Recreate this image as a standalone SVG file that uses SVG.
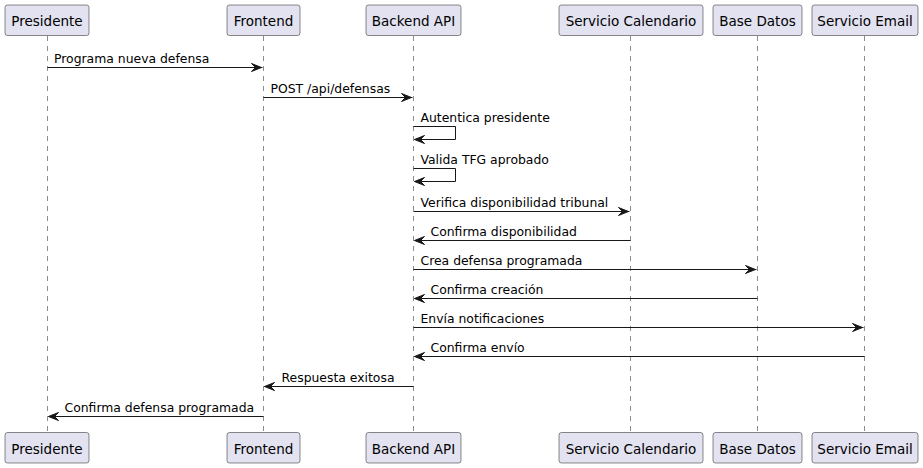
<svg xmlns="http://www.w3.org/2000/svg" width="923" height="468" viewBox="0 0 923 468">
<style>
.bg{fill:#FFFFFF}
.box{fill:#E2E2F0;stroke:#181818;stroke-width:0.5}
.pl{font-family:"DejaVu Sans",sans-serif;font-size:13.5px;fill:#000000;text-anchor:middle}
.life{stroke:#181818;stroke-width:0.5;stroke-dasharray:5,5;fill:none}
.msg{stroke:#181818;stroke-width:1;fill:none}
.ah{fill:#181818;stroke:#181818;stroke-width:1}
.ml{font-family:"DejaVu Sans",sans-serif;font-size:12.4px;fill:#000000}
</style>
<rect class="bg" x="0" y="0" width="923" height="468"/>
<g id="lifelines">
<line class="life" x1="47.5" y1="36" x2="47.5" y2="432"/>
<line class="life" x1="263.5" y1="36" x2="263.5" y2="432"/>
<line class="life" x1="413.5" y1="36" x2="413.5" y2="432"/>
<line class="life" x1="630.5" y1="36" x2="630.5" y2="432"/>
<line class="life" x1="757.5" y1="36" x2="757.5" y2="432"/>
<line class="life" x1="864.5" y1="36" x2="864.5" y2="432"/>
</g>
<g id="presidente">
<rect class="box" x="5" y="5" width="84" height="30.5" rx="2.5"/>
<text class="pl" x="47" y="26">Presidente</text>
<rect class="box" x="5" y="432.5" width="84" height="30.5" rx="2.5"/>
<text class="pl" x="47" y="453.5">Presidente</text>
</g>
<g id="frontend">
<rect class="box" x="227" y="5" width="73" height="30.5" rx="2.5"/>
<text class="pl" x="263.5" y="26">Frontend</text>
<rect class="box" x="227" y="432.5" width="73" height="30.5" rx="2.5"/>
<text class="pl" x="263.5" y="453.5">Frontend</text>
</g>
<g id="backend">
<rect class="box" x="366" y="5" width="95" height="30.5" rx="2.5"/>
<text class="pl" x="413.5" y="26">Backend API</text>
<rect class="box" x="366" y="432.5" width="95" height="30.5" rx="2.5"/>
<text class="pl" x="413.5" y="453.5">Backend API</text>
</g>
<g id="calendario">
<rect class="box" x="559" y="5" width="144" height="30.5" rx="2.5"/>
<text class="pl" x="631" y="26">Servicio Calendario</text>
<rect class="box" x="559" y="432.5" width="144" height="30.5" rx="2.5"/>
<text class="pl" x="631" y="453.5">Servicio Calendario</text>
</g>
<g id="basedatos">
<rect class="box" x="713" y="5" width="89" height="30.5" rx="2.5"/>
<text class="pl" x="757.5" y="26">Base Datos</text>
<rect class="box" x="713" y="432.5" width="89" height="30.5" rx="2.5"/>
<text class="pl" x="757.5" y="453.5">Base Datos</text>
</g>
<g id="email">
<rect class="box" x="812" y="5" width="106" height="30.5" rx="2.5"/>
<text class="pl" x="865" y="26">Servicio Email</text>
<rect class="box" x="812" y="432.5" width="106" height="30.5" rx="2.5"/>
<text class="pl" x="865" y="453.5">Servicio Email</text>
</g>
<g id="connectors">
<line class="msg" x1="47.5" y1="67.5" x2="262.5" y2="67.5"/>
<polygon class="ah" points="251.5,63.5 261.5,67.5 251.5,71.5 255.5,67.5"/>
<text class="ml" x="54" y="63">Programa nueva defensa</text>

<line class="msg" x1="263.5" y1="97.5" x2="412.5" y2="97.5"/>
<polygon class="ah" points="401.5,93.5 411.5,97.5 401.5,101.5 405.5,97.5"/>
<text class="ml" x="270.5" y="93">POST /api/defensas</text>

<polyline class="msg" points="413.5,126.5 455.5,126.5 455.5,139.5 414.5,139.5"/>
<polygon class="ah" points="424.5,135.5 414.5,139.5 424.5,143.5 420.5,139.5"/>
<text class="ml" x="420.5" y="122">Autentica presidente</text>

<polyline class="msg" points="413.5,168.5 455.5,168.5 455.5,181.5 414.5,181.5"/>
<polygon class="ah" points="424.5,177.5 414.5,181.5 424.5,185.5 420.5,181.5"/>
<text class="ml" x="420.5" y="164">Valida TFG aprobado</text>

<line class="msg" x1="413.5" y1="211.5" x2="629.5" y2="211.5"/>
<polygon class="ah" points="618.5,207.5 628.5,211.5 618.5,215.5 622.5,211.5"/>
<text class="ml" x="420.5" y="207">Verifica disponibilidad tribunal</text>

<line class="msg" x1="414.5" y1="240.5" x2="630.5" y2="240.5"/>
<polygon class="ah" points="424.5,236.5 414.5,240.5 424.5,244.5 420.5,240.5"/>
<text class="ml" x="430.5" y="236">Confirma disponibilidad</text>

<line class="msg" x1="413.5" y1="269.5" x2="756.5" y2="269.5"/>
<polygon class="ah" points="745.5,265.5 755.5,269.5 745.5,273.5 749.5,269.5"/>
<text class="ml" x="420.5" y="265">Crea defensa programada</text>

<line class="msg" x1="414.5" y1="298.5" x2="757.5" y2="298.5"/>
<polygon class="ah" points="424.5,294.5 414.5,298.5 424.5,302.5 420.5,298.5"/>
<text class="ml" x="430.5" y="294">Confirma creación</text>

<line class="msg" x1="413.5" y1="327.5" x2="863.5" y2="327.5"/>
<polygon class="ah" points="852.5,323.5 862.5,327.5 852.5,331.5 856.5,327.5"/>
<text class="ml" x="420.5" y="323">Envía notificaciones</text>

<line class="msg" x1="414.5" y1="356.5" x2="864.5" y2="356.5"/>
<polygon class="ah" points="424.5,352.5 414.5,356.5 424.5,360.5 420.5,356.5"/>
<text class="ml" x="430.5" y="352">Confirma envío</text>

<line class="msg" x1="264.5" y1="386.5" x2="413.5" y2="386.5"/>
<polygon class="ah" points="274.5,382.5 264.5,386.5 274.5,390.5 270.5,386.5"/>
<text class="ml" x="281.5" y="382">Respuesta exitosa</text>

<line class="msg" x1="48.5" y1="416.5" x2="263.5" y2="416.5"/>
<polygon class="ah" points="58.5,412.5 48.5,416.5 58.5,420.5 54.5,416.5"/>
<text class="ml" x="64.5" y="412">Confirma defensa programada</text>
</g>
</svg>
